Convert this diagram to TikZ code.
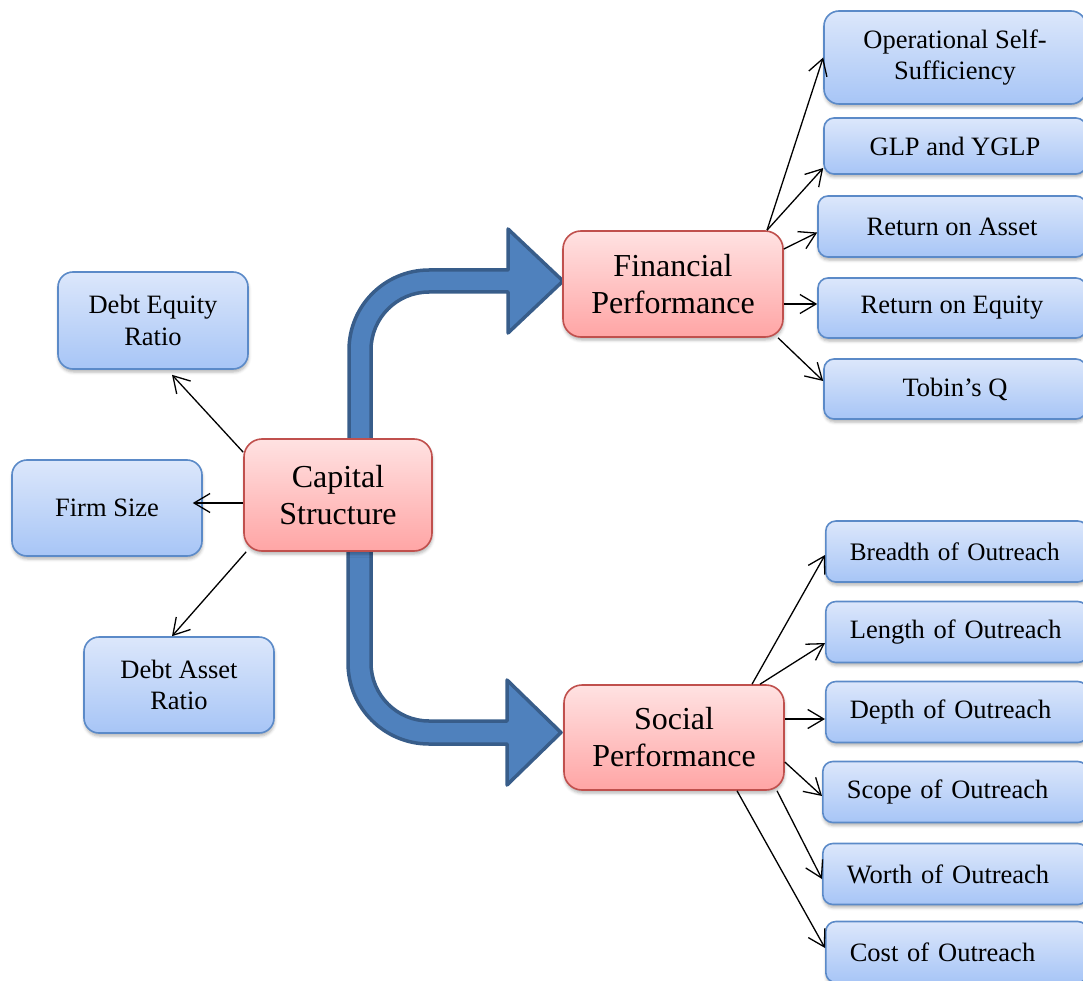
\documentclass[tikz,border=0pt]{standalone}
\usepackage{fontspec}
\setmainfont{Liberation Serif}
\usetikzlibrary{arrows.meta,shadows.blur}

\definecolor{bluetop}{HTML}{DCE7FB}
\definecolor{bluebot}{HTML}{A7C5F6}
\definecolor{blueline}{HTML}{5B8AC8}
\definecolor{redtop}{HTML}{FFE2E2}
\definecolor{redbot}{HTML}{FFA5A5}
\definecolor{redline}{HTML}{C0504D}
\definecolor{arrowfill}{HTML}{4F81BD}
\definecolor{arrowline}{HTML}{385D8A}

\begin{document}
\begin{tikzpicture}[x=1pt,y=-1pt,
  box/.style={line width=1.6pt, align=center, inner sep=0pt,
    blur shadow={shadow xshift=0.5pt, shadow yshift=-3pt,
      shadow blur radius=3pt, shadow opacity=30}},
  bluebox/.style={box, draw=blueline, top color=bluetop, bottom color=bluebot,
    rounded corners=#1, font=\fontsize{26.5}{31.5}\selectfont},
  bluebox/.default=10pt,
  socbox/.style={bluebox, anchor=west, align=left, inner xsep=24pt,
    minimum height=61pt},
  redbox/.style={box, draw=redline, top color=redtop, bottom color=redbot,
    rounded corners=18pt, font=\fontsize{32}{37}\selectfont},
  conn/.style={-{Straight Barb[length=16pt,width=19pt]}, line width=1.3pt},
  bigarrow/.style={fill=arrowfill, draw=arrowline, line width=3.5pt,
    line join=round}
]
\useasboundingbox (0,0) rectangle (1083,981);
\clip (0,0) rectangle (1083,981);

% thick bent arrows leaving the central box
\draw[bigarrow] (349,440) -- (349,350) arc[start angle=180,end angle=270,radius=80]
  -- (508,270) -- (508,229) -- (563,281) -- (508,333) -- (508,292) -- (429,292)
  arc[start angle=270,end angle=180,radius=58] -- (371,440) -- cycle;
\draw[bigarrow] (348,550) -- (348,663) arc[start angle=180,end angle=90,radius=81]
  -- (507,744) -- (507,785) -- (561,732.5) -- (507,680) -- (507,721) -- (429,721)
  arc[start angle=90,end angle=180,radius=58] -- (371,550) -- cycle;

% left column
\node[bluebox=15pt, minimum width=190pt, minimum height=97pt] (dte) at (153,320.5) {Debt Equity\\Ratio};
\node[bluebox=15pt, minimum width=190pt, minimum height=96pt] (fsz) at (107,508) {Firm Size};
\node[bluebox=15pt, minimum width=190pt, minimum height=96pt] (dar) at (179,685) {Debt Asset\\Ratio};

% central and branch boxes
\node[redbox, minimum width=188pt, minimum height=112pt] (cap) at (338,495) {Capital\\Structure};
\node[redbox, minimum width=220pt, minimum height=106pt] (fin) at (673,284) {Financial\\Performance};
\node[redbox, minimum width=220pt, minimum height=105pt] (soc) at (674,737.5) {Social\\Performance};

% financial indicators
\node[bluebox=15pt, minimum width=262pt, minimum height=93pt] (oss) at (955,57.5) {Operational Self-\\Sufficiency};
\node[bluebox, minimum width=262pt, minimum height=56pt] (glp) at (955,146) {GLP and YGLP};
\node[bluebox, minimum width=268pt, minimum height=61pt] (roa) at (952,226.5) {Return on Asset};
\node[bluebox, minimum width=268pt, minimum height=60pt] (roe) at (952,308) {Return on Equity};
\node[bluebox, minimum width=262pt, minimum height=60pt] (tq) at (955,389) {Tobin’s Q};

% social indicators
\node[socbox, text width=214pt, font=\fontsize{25.2}{30}\selectfont] (bre) at (825,551.5) {Breadth of Outreach};
\node[socbox, text width=214pt] (len) at (825,632) {Length of Outreach};
\node[socbox, text width=214pt] (dep) at (825,712) {Depth of Outreach};
\node[socbox, text width=217pt] (sco) at (822,792) {Scope of Outreach};
\node[socbox, text width=217pt] (wor) at (822,874) {Worth of Outreach};
\node[socbox, text width=214pt] (cos) at (825,952) {Cost of Outreach};

% connectors
\draw[conn] ([yshift=-14pt]cap.north west) -- ([xshift=19pt,yshift=-5pt]dte.south);
\draw[conn] ([yshift=-8pt]cap.west) -- ([xshift=-10pt,yshift=5pt]fsz.east);
\draw[conn] ([xshift=3pt]cap.south west) -- ([xshift=-7pt]dar.north);

\draw[conn] ([xshift=94pt]fin.north) -- (oss.west);
\draw[conn] ([xshift=94pt]fin.north) -- ([yshift=-22pt]glp.west);
\draw[conn] ([yshift=35pt]fin.east) -- ([yshift=-6pt]roa.west);
\draw[conn] ([yshift=-20pt]fin.east) -- ([yshift=4pt]roe.west);
\draw[conn] ([xshift=105pt]fin.south) -- ([yshift=8pt]tq.west);

\draw[conn] ([xshift=78pt]soc.north) -- ([yshift=-3.5pt]bre.west);
\draw[conn] ([xshift=86pt]soc.north) -- ([yshift=-11pt]len.west);
\draw[conn] ([yshift=18.5pt]soc.east) -- ([yshift=-7pt]dep.west);
\draw[conn] ([yshift=-24.5pt]soc.east) -- ([yshift=-4pt]sco.west);
\draw[conn] ([xshift=103pt]soc.south) -- ([yshift=-5pt]wor.west);
\draw[conn] ([xshift=63pt]soc.south) -- ([yshift=4pt]cos.west);
\end{tikzpicture}
\end{document}
